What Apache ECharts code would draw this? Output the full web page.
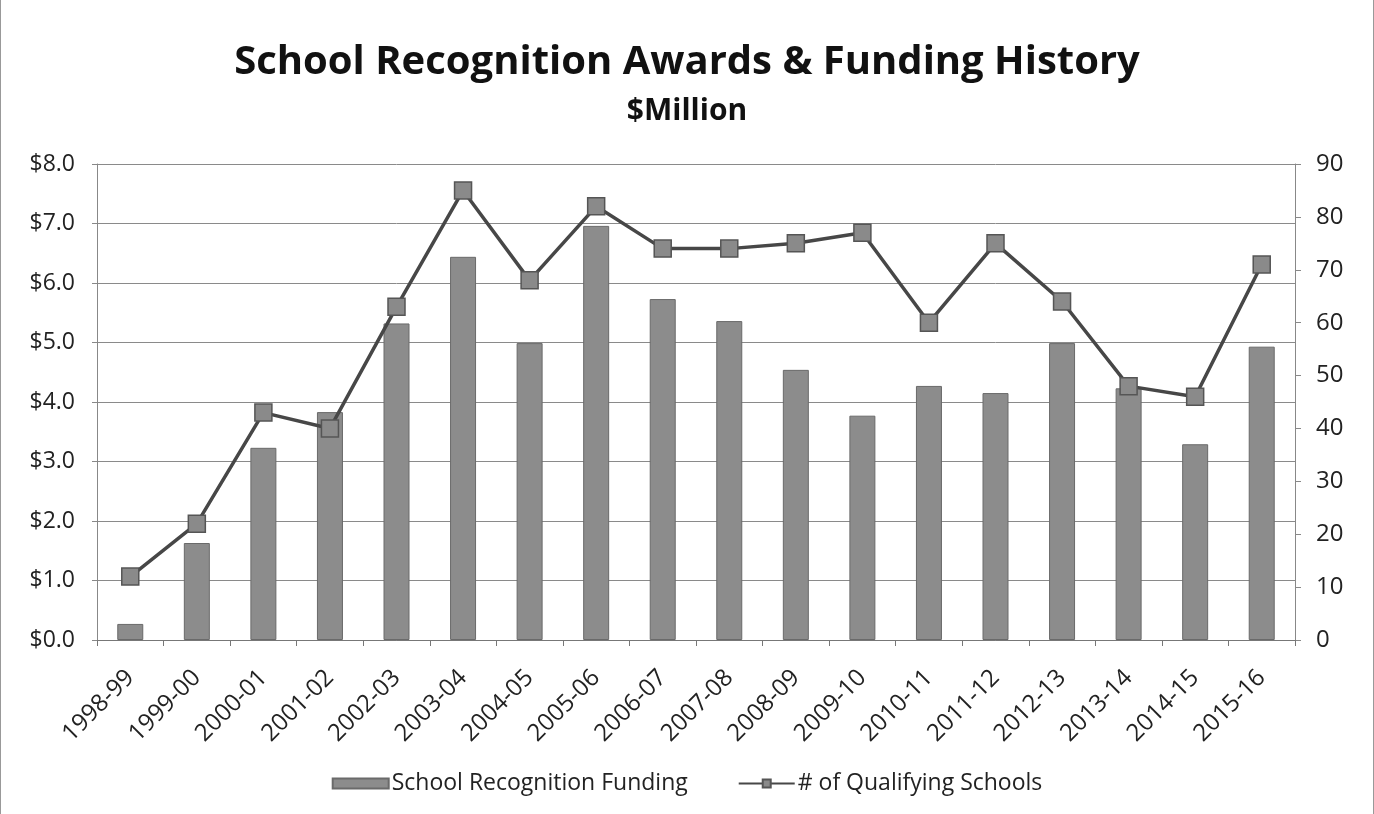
<!DOCTYPE html>
<html>
<head>
<meta charset="utf-8">
<script src="https://cdn.jsdelivr.net/npm/echarts@6/dist/echarts.min.js"></script>
<style>
html,body{margin:0;padding:0;background:#fff;}
#c{width:1374px;height:814px;box-sizing:border-box;border-left:1px solid #999;border-right:1px solid #999;}
</style>
</head>
<body>
<div id="c"></div>
<script>
const categories = ['1998-99','1999-00','2000-01','2001-02','2002-03','2003-04','2004-05','2005-06','2006-07','2007-08','2008-09','2009-10','2010-11','2011-12','2012-13','2013-14','2014-15','2015-16'];
const funding = [0.27,1.63,3.23,3.83,5.32,6.44,4.99,6.96,5.73,5.36,4.54,3.77,4.27,4.15,4.99,4.23,3.29,4.93];
const schools = [12,22,43,40,63,85,68,82,74,74,75,77,60,75,64,48,46,71];
const titleText = 'School Recognition Awards & Funding History';
const subtitleText = '$Million';
const seriesNames = ['School Recognition Funding', '# of Qualifying Schools'];

const chart = echarts.init(document.getElementById('c'));
const font = '"Open Sans", "Noto Sans", sans-serif';
chart.setOption({
  animation: false,
  title: {
    text: titleText,
    subtext: subtitleText,
    left: 'center',
    top: 36,
    itemGap: 10,
    textStyle: {fontFamily: font, fontSize: 40, fontWeight: 'bold', color: '#111', lineHeight: 44},
    subtextStyle: {fontFamily: font, fontSize: 30, fontWeight: 'bold', color: '#111', lineHeight: 32}
  },
  legend: {
    top: 767,
    left: 'center',
    itemGap: 50,
    itemWidth: 56,
    itemHeight: 10,
    textStyle: {fontFamily: font, fontSize: 23, color: '#222', padding: [0, 0, 0, -2]},
    data: [
      {name: seriesNames[0], icon: 'rect'},
      {name: seriesNames[1]}
    ]
  },
  grid: {left: 96, right: 78, top: 164, bottom: 174},
  xAxis: {
    type: 'category',
    data: categories,
    boundaryGap: true,
    axisLine: {lineStyle: {color: '#777', width: 1}},
    axisTick: {show: true, alignWithLabel: false, length: 6, lineStyle: {color: '#777'}},
    axisLabel: {rotate: 45, fontFamily: font, fontSize: 24, color: '#222', margin: 34}
  },
  yAxis: [
    {
      type: 'value', min: 0, max: 8, interval: 1,
      axisLine: {show: true, lineStyle: {color: '#888'}},
      axisTick: {show: true, length: 5, lineStyle: {color: '#888'}},
      splitLine: {lineStyle: {color: '#8a8a8a', width: 1}},
      axisLabel: {fontFamily: font, fontSize: 23, color: '#222', margin: 22,
        formatter: v => '$' + v.toFixed(1)}
    },
    {
      type: 'value', min: 0, max: 90, interval: 10,
      position: 'right',
      axisLine: {show: true, lineStyle: {color: '#888'}},
      axisTick: {show: true, length: 6, lineStyle: {color: '#888'}},
      splitLine: {show: false},
      axisLabel: {fontFamily: font, fontSize: 24, color: '#222', margin: 21}
    }
  ],
  series: [
    {
      name: seriesNames[0],
      type: 'bar',
      data: funding,
      yAxisIndex: 0,
      barWidth: 26,
      itemStyle: {color: '#8c8c8c', borderColor: '#6a6a6a', borderWidth: 1}
    },
    {
      name: seriesNames[1],
      type: 'line',
      data: schools,
      yAxisIndex: 1,
      symbol: 'rect',
      symbolSize: 17,
      lineStyle: {color: '#474747', width: 3.5},
      itemStyle: {color: '#8a8a8a', borderColor: '#555', borderWidth: 1.5},
      z: 5
    }
  ]
});
</script>
</body>
</html>
